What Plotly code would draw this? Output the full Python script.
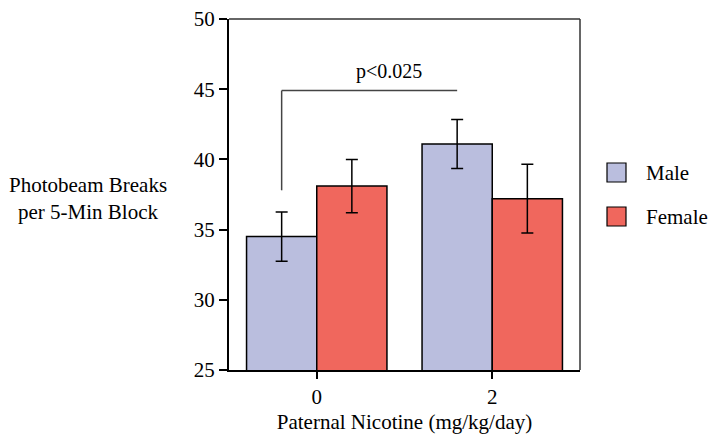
import plotly.graph_objects as go

# ---- data ----
doses = ["0", "2"]
male_means = [34.5, 41.1]
male_sem = [1.75, 1.75]
female_means = [38.1, 37.2]
female_sem = [1.9, 2.45]
series_names = ["Male", "Female"]
p_label = "p<0.025"
bracket_low = 37.8
bracket_high = 44.9
y_ticks = [25, 30, 35, 40, 45, 50]

MALE_C = "#BABEDE"
FEMALE_C = "#F0675D"
FONT = "Liberation Serif, Times New Roman, serif"

fig = go.Figure()
for name, vals, errs, col in [(series_names[0], male_means, male_sem, MALE_C),
                              (series_names[1], female_means, female_sem, FEMALE_C)]:
    fig.add_trace(go.Bar(
        x=doses, y=vals, name=name,
        marker=dict(color=col, line=dict(color="black", width=1.5)),
        error_y=dict(type="data", array=errs, visible=True, color="black",
                     thickness=1.5, width=6),
        showlegend=False,
    ))

# significance bracket between male bars (offset -0.2 in each group)
xl = 0 - 0.2
xr = 1 - 0.2
fig.add_shape(type="line", xref="x", yref="y", x0=xl, x1=xl, y0=bracket_low, y1=bracket_high,
              line=dict(color="#444", width=1.5))
fig.add_shape(type="line", xref="x", yref="y", x0=xl, x1=xr, y0=bracket_high, y1=bracket_high,
              line=dict(color="#444", width=1.5))
fig.add_annotation(x=0.41, y=bracket_high, xref="x", yref="y", text=p_label,
                   showarrow=False, yanchor="bottom", yshift=6,
                   font=dict(family=FONT, size=20, color="black"))

# top & right frame
fig.add_shape(type="line", xref="paper", yref="paper", x0=0, x1=1, y0=1, y1=1,
              line=dict(color="#333", width=1.5))
fig.add_shape(type="line", xref="paper", yref="paper", x0=1, x1=1, y0=0, y1=1,
              line=dict(color="#333", width=1.5))

# y-axis title (horizontal, left)
fig.add_annotation(xref="paper", yref="paper", x=(88 - 229) / 351, y=(370 - 198) / 351,
                   xanchor="center", yanchor="middle",
                   text="Photobeam Breaks<br>per 5-Min Block", showarrow=False, align="center",
                   font=dict(family=FONT, size=21, color="black"))

# manual legend
for i, (name, col) in enumerate([(series_names[0], MALE_C), (series_names[1], FEMALE_C)]):
    yc = 172.5 + 44 * i  # pixel center
    yp = (370 - yc) / 351
    hs = 9.5 / 351
    x0 = (607 - 229) / 351
    x1 = (626 - 229) / 351
    fig.add_shape(type="rect", xref="paper", yref="paper", x0=x0, x1=x1, y0=yp - hs, y1=yp + hs,
                  fillcolor=col, line=dict(color="black", width=1.2))
    fig.add_annotation(xref="paper", yref="paper", x=(644 - 229) / 351, y=yp, xanchor="left",
                       yanchor="middle", text=name, showarrow=False,
                       font=dict(family=FONT, size=21, color="black"))

fig.update_layout(
    width=710, height=435,
    margin=dict(l=229, r=130, t=19, b=65),
    plot_bgcolor="white", paper_bgcolor="white",
    barmode="group", bargap=0.2, bargroupgap=0,
    font=dict(family=FONT, size=21, color="black"),
    xaxis=dict(type="category", showline=True, linecolor="black", linewidth=2,
               ticks="outside", ticklen=7, tickwidth=1.5, tickcolor="black",
               showgrid=False, zeroline=False, automargin=False,
               title=dict(text="Paternal Nicotine (mg/kg/day)", standoff=6,
                          font=dict(family=FONT, size=21))),
    yaxis=dict(range=[25, 50], tickvals=y_ticks, showline=True, linecolor="black", linewidth=2,
               ticks="outside", ticklen=8, tickwidth=1.5, tickcolor="black",
               showgrid=False, zeroline=False, automargin=False),
)

fig.write_html("out.html", config={"displayModeBar": False},
               post_script="document.body.style.margin='0';")
